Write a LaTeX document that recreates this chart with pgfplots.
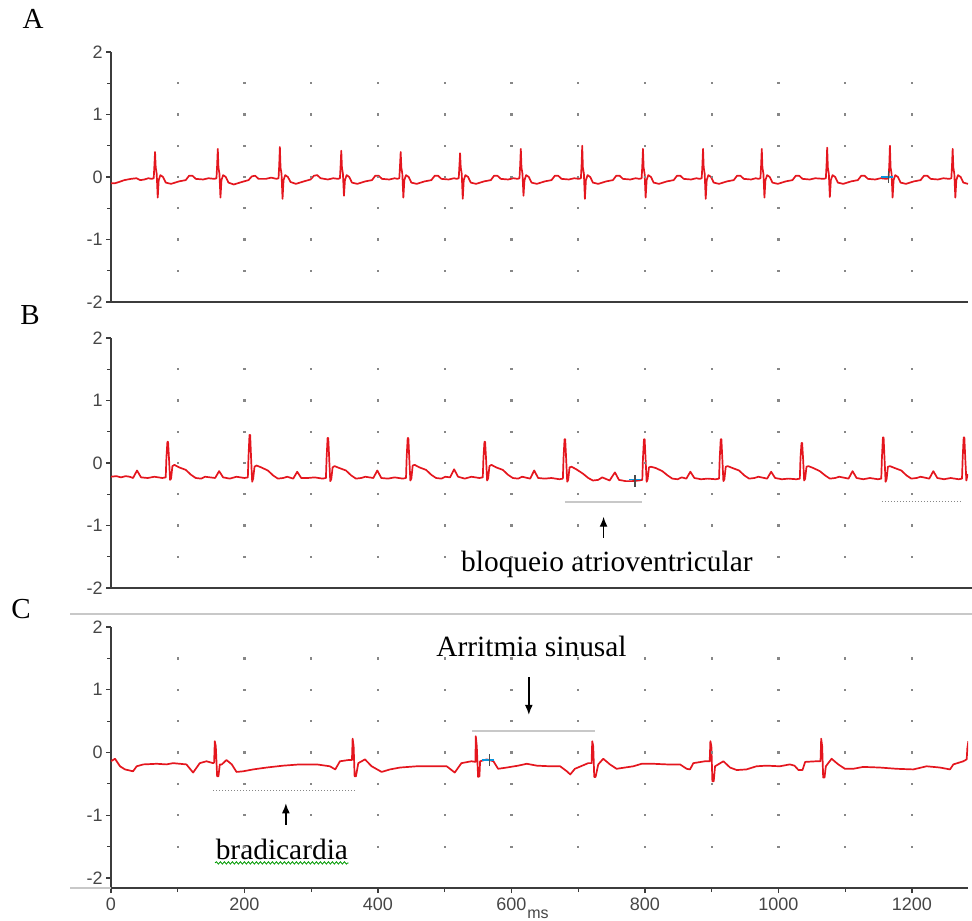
\documentclass[border=0pt]{standalone}
\usepackage{fontspec}
\setmainfont{Liberation Serif}
\newfontfamily\arial{Liberation Sans}
\usepackage{pgfplots}
\pgfplotsset{compat=1.18}
\usetikzlibrary{arrows.meta,decorations.pathmorphing}

\definecolor{ecgred}{RGB}{228,22,30}
\definecolor{axgray}{RGB}{60,60,60}
\definecolor{lblgray}{RGB}{70,70,70}
\definecolor{dotgray}{RGB}{135,135,135}
\definecolor{markgray}{RGB}{200,200,200}

\pgfplotsset{
  ecg/.style={
    scale only axis, anchor=south west,
    width=428.5pt, height=125pt,
    xmin=0, xmax=1284, ymin=-2, ymax=2,
    axis lines=left,
    axis line style={-, line width=0.9pt, axgray},
    ytick={-2,-1,0,1,2}, yticklabels={-2,-1,0,1,2},
    minor ytick={-1.5,-0.5,0.5,1.5},
    xtick=\empty,
    tick align=outside, major tick length=2.5pt, minor tick length=2pt,
    tick style={line width=0.6pt, axgray},
    yticklabel style={font=\arial\fontsize{9}{10}\selectfont, text=lblgray, inner sep=1.5pt},
    xticklabel style={font=\arial\fontsize{9}{10}\selectfont, text=lblgray, inner sep=2.5pt},
  },
  gdot/.style={only marks, mark=square*, mark size=0.32pt, dotgray, forget plot},
  trace/.style={ecgred, line width=0.85pt, line join=round, mark=none},
}
\newcommand{\ecgdots}{%
  \pgfplotsinvokeforeach{100,200,...,1200}{%
    \addplot[gdot] coordinates {(##1,-1.5) (##1,-1) (##1,-0.5) (##1,0) (##1,0.5) (##1,1) (##1,1.5)};}}
\tikzset{note/.style={font=\fontsize{14.7}{16}\selectfont, inner sep=0pt},
  arr/.style={-{Latex[length=5pt,width=4pt]}, line width=0.7pt, black}}

\begin{document}
\begin{tikzpicture}
\path[use as bounding box] (0,0) rectangle (486pt,460pt);

% ---------- A ----------
\begin{axis}[ecg, at={(55.5pt,309pt)}]
\ecgdots
\addplot[trace] coordinates {
(0,-0.10) (6,-0.10) (12,-0.08) (20,-0.05) (30,-0.03) (38,-0.02) (44,-0.05) (50,-0.04) (56,-0.02)
(61,-0.03) (64,-0.02) (65,0.18) (66,0.40) (67,0.15) (68.5,0.05) (70,-0.33) (71.5,-0.05) (74,0.03) (78,0.00) (82,-0.09) (90,-0.11) (102,-0.07) (112,-0.05) (117,0.02) (122,0.02) (127,-0.03) (138,-0.04) (146,-0.02)
(155,-0.03) (158,-0.02) (159,0.18) (160,0.45) (161,0.15) (162.5,0.05) (164,-0.33) (165.5,-0.05) (168,0.03) (172,0.00) (176,-0.09) (184,-0.12) (196,-0.08) (206,-0.05) (211,0.01) (216,0.02) (221,-0.03) (232,-0.03) (240,-0.01)
(248,-0.03) (251,-0.02) (252,0.18) (253,0.48) (254,0.15) (255.5,0.05) (257,-0.35) (258.5,-0.05) (261,0.03) (265,0.00) (269,-0.08) (277,-0.11) (289,-0.07) (299,-0.04) (304,0.02) (309,0.03) (314,-0.02) (325,-0.04) (333,-0.02)
(340,-0.03) (343,-0.02) (344,0.18) (345,0.42) (346,0.15) (347.5,0.05) (349,-0.30) (350.5,-0.05) (353,0.03) (357,0.00) (361,-0.09) (369,-0.11) (381,-0.07) (391,-0.05) (396,0.02) (401,0.02) (406,-0.03) (417,-0.04) (425,-0.02)
(429,-0.03) (432,-0.02) (433,0.18) (434,0.40) (435,0.15) (436.5,0.05) (438,-0.33) (439.5,-0.05) (442,0.03) (446,0.00) (450,-0.09) (458,-0.11) (470,-0.07) (480,-0.05) (485,0.02) (490,0.02) (495,-0.03) (506,-0.04) (514,-0.02)
(518,-0.03) (521,-0.02) (522,0.18) (523,0.38) (524,0.15) (525.5,0.05) (527,-0.35) (528.5,-0.05) (531,0.03) (535,0.00) (539,-0.09) (547,-0.11) (559,-0.07) (569,-0.05) (574,0.02) (579,0.02) (584,-0.03) (595,-0.04) (603,-0.02)
(609,-0.03) (612,-0.02) (613,0.18) (614,0.45) (615,0.15) (616.5,0.05) (618,-0.30) (619.5,-0.05) (622,0.03) (626,0.00) (630,-0.09) (638,-0.11) (650,-0.07) (660,-0.05) (665,0.02) (670,0.02) (675,-0.03) (686,-0.04) (694,-0.02)
(701,-0.03) (704,-0.02) (705,0.18) (706,0.50) (707,0.15) (708.5,0.05) (710,-0.35) (711.5,-0.05) (714,0.03) (718,0.00) (722,-0.09) (730,-0.11) (742,-0.07) (752,-0.05) (757,0.02) (762,0.02) (767,-0.03) (778,-0.04) (786,-0.02)
(792,-0.03) (795,-0.02) (796,0.18) (797,0.45) (798,0.15) (799.5,0.05) (801,-0.33) (802.5,-0.05) (805,0.03) (809,0.00) (813,-0.09) (821,-0.11) (833,-0.07) (843,-0.05) (848,0.02) (853,0.02) (858,-0.03) (869,-0.04) (877,-0.02)
(882,-0.03) (885,-0.02) (886,0.18) (887,0.45) (888,0.15) (889.5,0.05) (891,-0.35) (892.5,-0.05) (895,0.03) (899,0.00) (903,-0.09) (911,-0.11) (923,-0.07) (933,-0.05) (938,0.02) (943,0.02) (948,-0.03) (959,-0.04) (966,-0.02)
(970,-0.03) (973,-0.02) (974,0.18) (975,0.45) (976,0.15) (977.5,0.05) (979,-0.33) (980.5,-0.05) (983,0.03) (987,0.00) (991,-0.09) (999,-0.11) (1011,-0.07) (1021,-0.05) (1026,0.02) (1031,0.02) (1036,-0.03) (1047,-0.04) (1055,-0.02)
(1068,-0.03) (1071,-0.02) (1072,0.18) (1073,0.47) (1074,0.15) (1075.5,0.05) (1077,-0.32) (1078.5,-0.05) (1081,0.03) (1085,0.00) (1089,-0.09) (1097,-0.11) (1109,-0.07) (1119,-0.05) (1124,0.02) (1129,0.02) (1134,-0.03) (1145,-0.04) (1153,-0.02)
(1162,-0.03) (1165,-0.02) (1166,0.18) (1167,0.50) (1168,0.15) (1169.5,0.05) (1171,-0.33) (1172.5,-0.05) (1175,0.03) (1179,0.00) (1183,-0.09) (1191,-0.11) (1203,-0.07) (1213,-0.05) (1218,0.02) (1223,0.02) (1228,-0.03) (1239,-0.04) (1247,-0.02)
(1256,-0.03) (1259,-0.02) (1260,0.18) (1261,0.45) (1262,0.15) (1263.5,0.05) (1265,-0.33) (1266.5,-0.05) (1269,0.03) (1273,0.00) (1277,-0.09) (1284,-0.11)
};
\addplot[only marks, mark=-, mark size=3pt, cyan!80!blue, line width=0.6pt] coordinates {(1163,0)};
\addplot[only marks, mark=|, mark size=3pt, black!70, line width=0.6pt] coordinates {(1165,0)};
\end{axis}

% ---------- B ----------
\begin{axis}[ecg, at={(55.5pt,166pt)}]
\ecgdots
\addplot[trace] coordinates {
(0,-0.22) (8,-0.21) (15,-0.23) (22,-0.21) (28,-0.22)
(33,-0.24) (39,-0.12) (45,-0.23) (55,-0.24) (65,-0.22) (77,-0.24) (82,-0.23) (83,0.08) (84.5,0.34) (85.5,0.34) (87,0.05) (88.5,-0.27) (90,-0.25) (92,-0.05) (95,-0.03) (102,-0.07) (112,-0.11) (120,-0.19) (127,-0.24) (135,-0.25) (141,-0.22)
(156,-0.24) (162,-0.13) (168,-0.23) (178,-0.25) (188,-0.22) (200,-0.24) (205,-0.23) (206,0.10) (207.5,0.45) (208.5,0.45) (210,0.05) (211.5,-0.30) (213,-0.25) (215,-0.06) (218,-0.04) (225,-0.07) (235,-0.12) (243,-0.20) (250,-0.25) (258,-0.24) (264,-0.22)
(273,-0.25) (279,-0.14) (285,-0.24) (295,-0.24) (305,-0.23) (317,-0.25) (322,-0.24) (323,0.08) (324.5,0.40) (325.5,0.40) (327,0.05) (328.5,-0.29) (330,-0.26) (332,-0.07) (335,-0.05) (342,-0.08) (352,-0.12) (360,-0.20) (367,-0.25) (375,-0.24) (381,-0.22)
(393,-0.24) (399,-0.12) (405,-0.24) (415,-0.25) (425,-0.23) (437,-0.25) (442,-0.24) (443,0.10) (444.5,0.40) (445.5,0.40) (447,0.05) (448.5,-0.28) (450,-0.25) (452,-0.04) (455,-0.03) (462,-0.07) (472,-0.11) (480,-0.19) (487,-0.24) (495,-0.25) (501,-0.22)
(508,-0.23) (514,-0.10) (520,-0.22) (530,-0.25) (540,-0.22) (552,-0.24) (557,-0.23) (558,0.08) (559.5,0.34) (560.5,0.34) (562,0.05) (563.5,-0.28) (565,-0.25) (567,-0.05) (570,-0.03) (577,-0.07) (587,-0.11) (595,-0.19) (602,-0.24) (610,-0.25) (616,-0.22)
(628,-0.25) (634,-0.12) (640,-0.24) (650,-0.25) (660,-0.24) (672,-0.26) (677,-0.25) (678,0.08) (679.5,0.38) (680.5,0.38) (682,0.05) (683.5,-0.30) (685,-0.27) (687,-0.07) (690,-0.06) (697,-0.10) (707,-0.17) (715,-0.24) (722,-0.28) (730,-0.27) (736,-0.23)
(747,-0.28) (755,-0.15) (761,-0.27) (771,-0.29) (781,-0.29) (791,-0.28) (796,-0.27) (797,0.08) (798.5,0.38) (799.5,0.38) (801,0.05) (802.5,-0.30) (804,-0.26) (806,-0.07) (809,-0.06) (816,-0.08) (826,-0.13) (834,-0.20) (841,-0.25) (849,-0.26) (855,-0.23)
(862,-0.25) (868,-0.14) (874,-0.24) (884,-0.26) (894,-0.25) (906,-0.26) (911,-0.25) (912,0.08) (913.5,0.38) (914.5,0.38) (916,0.05) (917.5,-0.29) (919,-0.26) (921,-0.06) (924,-0.05) (931,-0.08) (941,-0.12) (949,-0.20) (956,-0.25) (964,-0.24) (970,-0.22)
(983,-0.25) (989,-0.14) (995,-0.24) (1005,-0.26) (1015,-0.25) (1027,-0.26) (1032,-0.25) (1033,0.08) (1034.5,0.32) (1035.5,0.32) (1037,0.05) (1038.5,-0.28) (1040,-0.25) (1042,-0.06) (1045,-0.05) (1052,-0.08) (1062,-0.13) (1070,-0.20) (1077,-0.25) (1085,-0.24) (1091,-0.22)
(1105,-0.25) (1111,-0.13) (1117,-0.24) (1127,-0.26) (1137,-0.24) (1149,-0.26) (1154,-0.25) (1155,0.08) (1156.5,0.41) (1157.5,0.41) (1159,0.05) (1160.5,-0.30) (1162,-0.26) (1164,-0.06) (1167,-0.05) (1174,-0.08) (1184,-0.12) (1192,-0.20) (1199,-0.25) (1207,-0.24) (1213,-0.22)
(1226,-0.25) (1232,-0.13) (1238,-0.24) (1248,-0.26) (1258,-0.24) (1270,-0.26) (1275,-0.25) (1276,0.08) (1277.5,0.41) (1278.5,0.41) (1280,0.05) (1281.5,-0.28) (1283,-0.20) (1284,-0.18)
};
\addplot[only marks, mark=-, mark size=3pt, cyan!80!blue, line width=0.6pt] coordinates {(785,-0.27)};
\addplot[only marks, mark=|, mark size=3pt, black!70, line width=0.6pt] coordinates {(785,-0.29)};
\draw[markgray, line width=1pt] (axis cs:680,-0.63) -- (axis cs:795,-0.63);
\draw[dotgray, line width=0.6pt, dash pattern=on 0.6pt off 0.9pt] (axis cs:1155,-0.62) -- (axis cs:1273,-0.62);
\draw[arr] (axis cs:738,-1.2) -- (axis cs:738,-0.86);
\node[note] at (axis cs:743,-1.62) {bloqueio atrioventricular};
\end{axis}

% ---------- C ----------
\begin{axis}[ecg, at={(55.5pt,16pt)}, height=130.5pt, ymin=-2.16,
  xtick={0,200,...,1200}, xticklabels={0,200,400,600,800,1000,1200},
  minor xtick={100,300,...,1100}]
\ecgdots
\addplot[trace] coordinates {
(0,-0.14) (6,-0.10) (13.5,-0.22) (21,-0.27) (33,-0.30) (38.5,-0.22) (48.5,-0.19) (68.5,-0.18) (83,-0.19) (93,-0.17) (113,-0.19) (123,-0.32) (133,-0.17) (143,-0.14) (153,-0.17)
(154.5,-0.16) (155.5,0.18) (157,0.10) (159,-0.38) (161,-0.38) (163,-0.19) (166,-0.19) (173,-0.12) (181,-0.19) (188,-0.31) (198,-0.30) (213,-0.27) (233,-0.24) (258,-0.21) (283,-0.19) (308,-0.19) (328,-0.22) (336,-0.27) (343,-0.14) (356,-0.12)
(361,-0.12) (362,0.22) (363.5,0.10) (365,-0.38) (367,-0.38) (370.5,-0.17) (380.5,-0.11) (390.5,-0.22) (405.5,-0.31) (418,-0.27) (433,-0.24) (458,-0.22) (483,-0.22) (503,-0.22) (515,-0.32) (525,-0.17) (540,-0.14) (546,-0.15)
(546.5,0.26) (548,0.10) (550,-0.39) (552,-0.38) (553,-0.14) (563,-0.11) (573,-0.14) (580,-0.26) (593,-0.24) (610,-0.21) (623,-0.18) (638,-0.21) (658,-0.22) (673,-0.22) (683,-0.30) (688,-0.35) (695,-0.26) (715,-0.17)
(720,-0.17) (721,0.18) (722.5,0.10) (724,-0.39) (726,-0.39) (730,-0.19) (737.5,-0.10) (747.5,-0.19) (757.5,-0.26) (782.5,-0.22) (795,-0.18) (812.5,-0.18) (832.5,-0.19) (852.5,-0.19) (862.5,-0.26) (867.5,-0.27) (872.5,-0.17) (890,-0.14)
(897,-0.14) (898,0.18) (899.5,0.10) (901,-0.46) (903,-0.46) (905,-0.22) (917.5,-0.14) (927.5,-0.24) (937.5,-0.28) (952,-0.27) (967,-0.22) (982,-0.21) (1002,-0.22) (1017,-0.19) (1024,-0.21) (1030,-0.28) (1036,-0.28) (1040,-0.15) (1057,-0.14)
(1063,-0.14) (1064,0.22) (1065.5,0.10) (1067,-0.40) (1069,-0.40) (1071,-0.22) (1079.6,-0.10) (1089.6,-0.19) (1099.6,-0.26) (1112,-0.26) (1127,-0.23) (1152,-0.24) (1177,-0.26) (1202,-0.27) (1222,-0.22) (1242,-0.24) (1257,-0.27) (1262,-0.19) (1277,-0.14) (1282,-0.11) (1283,0.07) (1284.5,0.18)
};
\addplot[only marks, mark=-, mark size=3pt, cyan!80!blue, line width=0.6pt] coordinates {(565,-0.12)};
\addplot[only marks, mark=|, mark size=3pt, black!70, line width=0.6pt] coordinates {(567,-0.12)};
\draw[markgray, line width=1pt] (axis cs:541,0.35) -- (axis cs:725,0.35);
\draw[arr] (axis cs:626,1.2) -- (axis cs:626,0.6);
\node[note] at (axis cs:630,1.69) {Arritmia sinusal};
\draw[dotgray, line width=0.6pt, dash pattern=on 0.6pt off 0.9pt] (axis cs:153,-0.6) -- (axis cs:366,-0.6);
\draw[arr] (axis cs:262,-1.15) -- (axis cs:262,-0.81);
\node[note] at (axis cs:256,-1.55) {bradicardia};
\draw[green!60!black, line width=0.4pt, decorate, decoration={snake, amplitude=0.6pt, segment length=2pt}] (axis cs:156,-1.76) -- (axis cs:356,-1.76);
\end{axis}

% frame pieces and panel letters
\draw[markgray, line width=0.8pt] (35pt,153pt) -- (486pt,153pt);
\draw[markgray, line width=0.6pt] (35pt,16pt) -- (55.5pt,16pt);
\draw[axgray, line width=0.9pt] (55.5pt,166pt) -- (486pt,166pt);
\node[font=\fontsize{14.5}{16}\selectfont] at (16.5pt,450.5pt) {A};
\node[font=\fontsize{14.5}{16}\selectfont] at (15pt,302.5pt) {B};
\node[font=\fontsize{14.5}{16}\selectfont] at (10.5pt,155.5pt) {C};
\node[font=\arial\fontsize{8}{9}\selectfont, text=lblgray, anchor=base, inner sep=0pt] at (269pt,0.6pt) {ms};
\end{tikzpicture}
\end{document}
